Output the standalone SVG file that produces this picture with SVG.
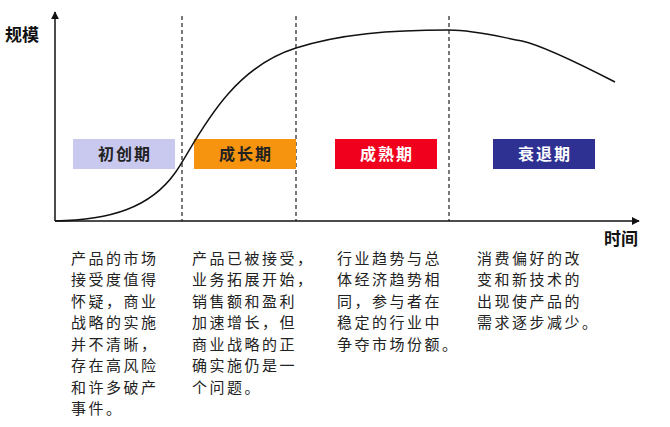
<svg xmlns="http://www.w3.org/2000/svg" width="670" height="427" viewBox="0 0 670 427">
<style>
.cjk{font-family:"Noto Sans CJK SC","Noto Sans",sans-serif;}
.lbl{font-size:16px;font-weight:bold;letter-spacing:2px;text-anchor:middle;}
.body{font-size:15px;fill:#222;letter-spacing:2.5px;}
.axis{font-size:17px;font-weight:bold;fill:#111;}
.dash{stroke:#333;stroke-width:1.3;stroke-dasharray:4,3;fill:none;}
.ax{stroke:#111;stroke-width:1.5;fill:none;}
</style>
<defs>
<marker id="arr" viewBox="0 0 10 10" refX="9" refY="5" markerWidth="8" markerHeight="8" markerUnits="userSpaceOnUse" orient="auto">
<path d="M0,0 L10,5 L0,10 z" fill="#111"/>
</marker>
</defs>
<rect width="670" height="427" fill="#fff"/>
<g id="connectors">
<line class="dash" x1="182" y1="16" x2="182" y2="221"/>
<line class="dash" x1="296" y1="16" x2="296" y2="221"/>
<line class="dash" x1="449" y1="16" x2="449" y2="221"/>
<line class="ax" x1="55" y1="221" x2="55" y2="12" marker-end="url(#arr)"/>
<line class="ax" x1="55" y1="221" x2="639" y2="221" marker-end="url(#arr)"/>
</g>
<g id="phase-intro">
<rect x="73" y="139" width="102" height="30" fill="#c9c9f0"/>
<text class="cjk lbl" x="125" y="160" fill="#222">初创期</text>
</g>
<g id="phase-growth">
<rect x="194" y="139" width="102" height="30" fill="#f7940f"/>
<text class="cjk lbl" x="246" y="160" fill="#222">成长期</text>
</g>
<g id="phase-mature">
<rect x="335" y="139" width="102" height="30" fill="#f0001c"/>
<text class="cjk lbl" x="387" y="160" fill="#fff">成熟期</text>
</g>
<g id="phase-decline">
<rect x="493" y="139" width="102" height="30" fill="#2e3192"/>
<text class="cjk lbl" x="545" y="160" fill="#fff">衰退期</text>
</g>
<g id="curve">
<path d="M55,221 C110,220 150,208 175,173 C195,145 225,70 296,48 C340,34 390,30 449,30 C475,30 500,37 522,41 C540,45 580,64 615,82" fill="none" stroke="#111" stroke-width="1.5"/>
</g>
<g id="label-y"><text class="cjk axis" x="5" y="41" font-size="18">规模</text></g>
<g id="label-x"><text class="cjk axis" x="604" y="245">时间</text></g>
<g id="desc-intro">
<text class="cjk body" x="71" y="263.5">产品的市场</text>
<text class="cjk body" x="71" y="285">接受度值得</text>
<text class="cjk body" x="71" y="306.5">怀疑，商业</text>
<text class="cjk body" x="71" y="328">战略的实施</text>
<text class="cjk body" x="71" y="349.5">并不清晰，</text>
<text class="cjk body" x="71" y="371">存在高风险</text>
<text class="cjk body" x="71" y="392.5">和许多破产</text>
<text class="cjk body" x="71" y="414">事件。</text>
</g>
<g id="desc-growth">
<text class="cjk body" x="192" y="263.5">产品已被接受，</text>
<text class="cjk body" x="192" y="285">业务拓展开始，</text>
<text class="cjk body" x="192" y="306.5">销售额和盈利</text>
<text class="cjk body" x="192" y="328">加速增长，但</text>
<text class="cjk body" x="192" y="349.5">商业战略的正</text>
<text class="cjk body" x="192" y="371">确实施仍是一</text>
<text class="cjk body" x="192" y="392.5">个问题。</text>
</g>
<g id="desc-mature">
<text class="cjk body" x="337" y="263.5">行业趋势与总</text>
<text class="cjk body" x="337" y="285">体经济趋势相</text>
<text class="cjk body" x="337" y="306.5">同，参与者在</text>
<text class="cjk body" x="337" y="328">稳定的行业中</text>
<text class="cjk body" x="337" y="349.5">争夺市场份额。</text>
</g>
<g id="desc-decline">
<text class="cjk body" x="477" y="263.5">消费偏好的改</text>
<text class="cjk body" x="477" y="285">变和新技术的</text>
<text class="cjk body" x="477" y="306.5">出现使产品的</text>
<text class="cjk body" x="477" y="328">需求逐步减少。</text>
</g>
</svg>
